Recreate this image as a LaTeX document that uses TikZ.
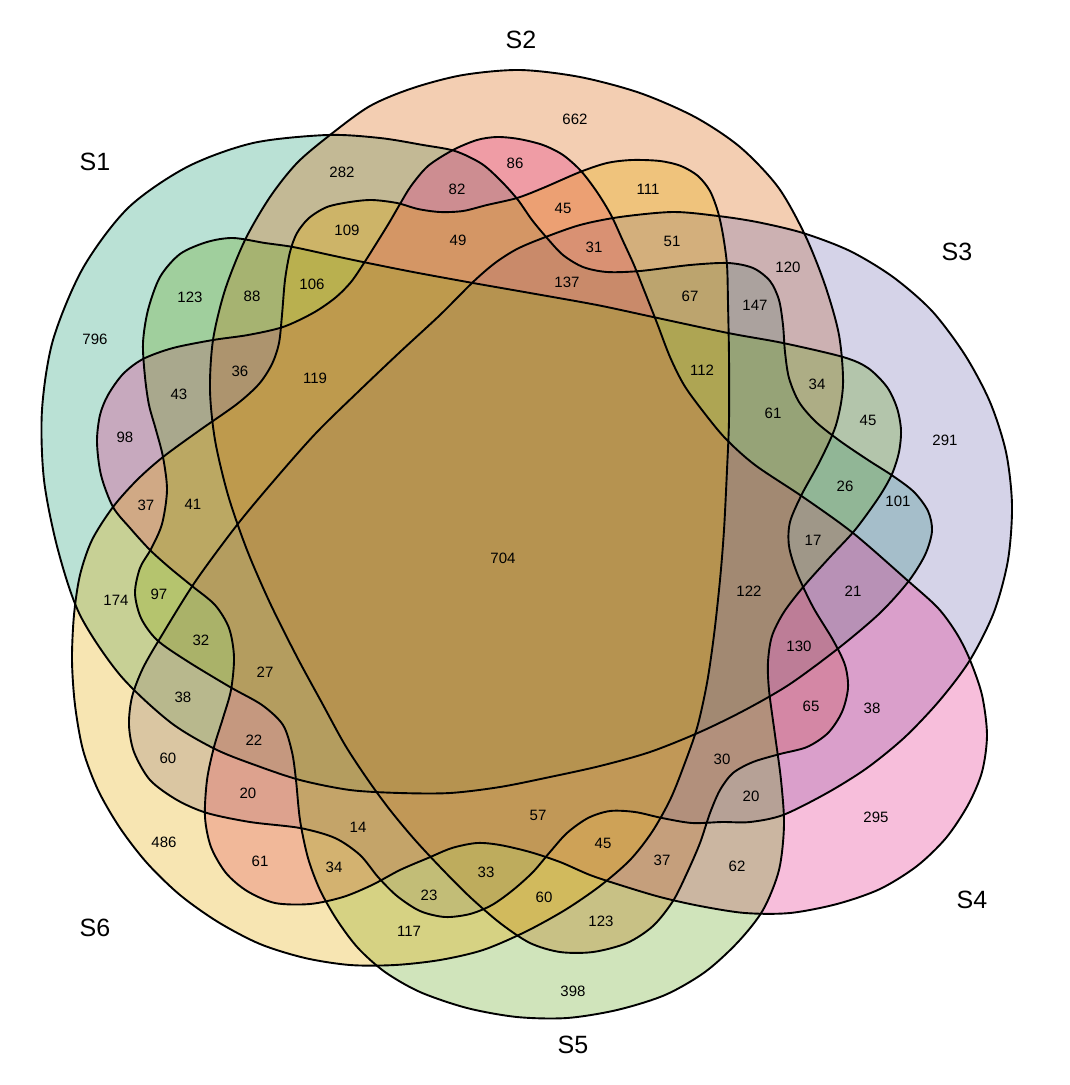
\documentclass[tikz,border=0pt]{standalone}
\usepackage{fontspec}
\setmainfont{Liberation Sans}
\definecolor{cA}{HTML}{1B9E77}
\definecolor{cB}{HTML}{D95F02}
\definecolor{cC}{HTML}{7570B3}
\definecolor{cD}{HTML}{E7298A}
\definecolor{cE}{HTML}{66A61E}
\definecolor{cF}{HTML}{E6AB02}
\begin{document}
\begin{tikzpicture}[x=1pt,y=-1pt,
  setfill/.style={fill opacity=0.3},
  setline/.style={draw=black, line width=1.9pt, line join=round},
  num/.style={font=\fontsize{15}{18}\selectfont, inner sep=0pt},
  setlab/.style={font=\fontsize{25}{30}\selectfont, inner sep=0pt}]
\useasboundingbox[fill=white] (0,0) rectangle (1069,1085);
% S1
\path[save path=\pA] plot[smooth cycle, tension=0.5] coordinates {
(327,135) (380,138) (423,145) (455,151) (482,164) (502,182) (518,200) (532,220) (547,238) (563,255) (583,267) (607,272) (640,271) (690,265) (728,263) (753,268) (770,281) (779,300) (783,325) (785,352) (789,378) (799,402) (816,422) (840,441) (868,460) (893,476) (914,492) (928,511) (932,531) (925,555) (908,582) (880,613) (840,647) (790,684) (745,710) (700,732) (650,752) (600,766) (550,777) (500,787) (450,793) (400,793) (350,790) (300,780) (255,765) (215,749) (170,722) (120,675) (80,615) (58,550) (44,480) (42,410) (53,340) (83,268) (128,208) (187,167) (253,143)};
% S2
\path[save path=\pB] plot[smooth cycle, tension=0.5] coordinates {
(330,135) (370,106) (413,88) (463,75) (520,70) (580,77) (640,93) (695,117) (740,147) (778,187) (805,235) (825,285) (839,335) (843,385) (836,425) (820,461) (802,494) (790,522) (789,546) (797,573) (813,607) (833,640) (845,665) (848,688) (842,712) (828,733) (807,747) (780,754) (753,762) (733,773) (720,790) (710,813) (700,843) (687,873) (673,901) (653,926) (627,943) (593,952) (560,952) (530,943) (500,923) (470,897) (443,870) (415,840) (390,810) (368,780) (345,745) (322,703) (297,657) (270,603) (247,550) (228,495) (215,440) (210,390) (213,340) (225,290) (245,240) (270,197) (297,163)};
% S3
\path[save path=\pC] plot[smooth cycle, tension=0.5] coordinates {
(473,282) (440,315) (400,352) (360,390) (317,432) (277,477) (237,525) (195,582) (162,635) (143,668) (132,697) (129,725) (134,752) (150,780) (177,800) (207,813) (250,822) (300,828) (335,838) (360,855) (378,877) (397,896) (420,911) (445,917) (470,914) (492,905) (513,890) (533,872) (550,852) (567,833) (588,818) (610,811) (635,812) (662,818) (692,823) (722,822) (750,822) (783,815) (827,793) (867,768) (905,737) (940,700) (970,660) (994,612) (1008,560) (1012,505) (1006,452) (990,402) (965,355) (932,311) (893,277) (850,251) (803,233) (757,222) (718,216) (673,212) (620,217) (580,225) (543,238) (517,249) (495,263)};
% S4
\path[save path=\pD] plot[smooth cycle, tension=0.5] coordinates {
(453,150) (477,140) (497,137) (519,139) (543,145) (563,155) (581,171) (597,192) (611,215) (623,241) (634,265) (644,290) (657,323) (670,357) (684,385) (702,410) (725,438) (755,465) (803,497) (853,533) (907,580) (938,608) (957,634) (970,660) (982,695) (987,735) (982,772) (968,805) (946,838) (917,866) (880,889) (837,904) (790,913) (745,913) (700,906) (660,897) (620,885) (590,875) (560,862) (530,852) (500,845) (477,843) (452,848) (428,858) (400,870) (372,885) (343,897) (310,904) (275,903) (247,891) (226,873) (211,847) (205,817) (207,780) (214,747) (223,718) (231,690) (234,657) (229,628) (215,605) (192,586) (170,568) (150,550) (130,528) (113,507) (101,475) (97,442) (100,415) (108,395) (123,374) (143,359) (173,348) (213,340) (248,335) (283,327) (313,313) (335,298) (351,282) (364,263) (376,244) (389,223) (400,204) (411,186) (428,166)};
% S5
\path[save path=\pE] plot[smooth cycle, tension=0.5] coordinates {
(233,238) (265,243) (293,247) (330,255) (363,262) (413,272) (473,283) (530,293) (597,305) (653,317) (728,333) (783,343) (843,357) (868,368) (887,387) (897,408) (901,430) (899,452) (892,474) (879,497) (855,530) (830,557) (804,586) (784,612) (772,636) (768,662) (769,690) (775,735) (781,780) (784,825) (779,870) (763,910) (738,942) (705,972) (665,995) (617,1010) (567,1018) (517,1017) (467,1008) (420,992) (385,972) (358,948) (337,920) (320,890) (308,858) (300,820) (296,780) (292,752) (283,725) (262,705) (230,687) (187,661) (157,640) (141,618) (135,593) (140,568) (151,549) (162,524) (167,490) (163,457) (156,430) (149,405) (145,377) (143,343) (148,310) (160,277) (180,254) (207,242)};
% S6
\path[save path=\pF] plot[smooth cycle, tension=0.5] coordinates {
(327,207) (350,202) (372,200) (397,203) (418,209) (440,212) (463,211) (487,205) (517,198) (543,188) (580,172) (607,163) (632,160) (660,161) (681,166) (698,176) (710,191) (718,212) (723,235) (727,265) (728,303) (729,357) (729,420) (727,470) (724,530) (720,580) (714,635) (707,683) (697,728) (683,768) (670,800) (652,832) (630,860) (600,886) (565,910) (525,932) (483,950) (440,960) (395,965) (350,965) (305,958) (260,944) (218,922) (180,895) (147,863) (120,828) (98,790) (83,750) (75,705) (72,660) (74,615) (80,575) (92,540) (113,507) (137,480) (163,457) (200,430) (237,404) (259,384) (272,364) (279,343) (282,315) (285,280) (290,252) (297,233) (309,218)};
\fill[cA, setfill, use path=\pA];
\fill[cB, setfill, use path=\pB];
\fill[cC, setfill, use path=\pC];
\fill[cD, setfill, use path=\pD];
\fill[cE, setfill, use path=\pE];
\fill[cF, setfill, use path=\pF];
\draw[setline, use path=\pA];
\draw[setline, use path=\pB];
\draw[setline, use path=\pC];
\draw[setline, use path=\pD];
\draw[setline, use path=\pE];
\draw[setline, use path=\pF];
% set labels
\node[setlab] (lS1) at (95,162) {S1};
\node[setlab] (lS2) at (521,40) {S2};
\node[setlab] (lS3) at (957,252) {S3};
\node[setlab] (lS4) at (972,900) {S4};
\node[setlab] (lS5) at (573,1045) {S5};
\node[setlab] (lS6) at (95,928) {S6};
% counts
\foreach \n/\x/\y/\t in {
a/575/119/662, b/515/163/86, c/342/172/282, d/457/189/82, e/648/189/111,
f/563/208/45, g/347/230/109, h/458/240/49, i/594/247/31, j/672/241/51,
k/788/267/120, l/190/297/123, m/252/296/88, n/312/284/106, o/567/282/137,
p/690/296/67, q/755/305/147, r/95/339/796, s/179/394/43, t/240/371/36,
u/315/378/119, v/702/370/112, w/817/384/34, x/773/413/61, y/868/420/45,
z/945/440/291, A/125/437/98, B/146/505/37, C/193/504/41, D/845/486/26,
E/898/501/101, F/503/558/704, G/813/540/17, H/116/600/174, I/159/594/97,
J/749/591/122, K/853/591/21, L/201/640/32, M/265/672/27, N/799/646/130,
O/811/706/65, P/183/697/38, Q/872/708/38, R/168/758/60, S/254/740/22,
T/722/759/30, U/248/793/20, V/751/796/20, W/538/815/57, X/358/827/14,
Y/876/817/295, Z/164/842/486, aa/603/843/45, ab/260/861/61, ac/334/867/34,
ad/486/872/33, ae/662/860/37, af/737/866/62, ag/429/895/23, ah/544/897/60,
ai/601/921/123, aj/409/931/117, ak/573/991/398}
  \node[num] (r\n) at (\x,\y) {\t};
\end{tikzpicture}
\end{document}
